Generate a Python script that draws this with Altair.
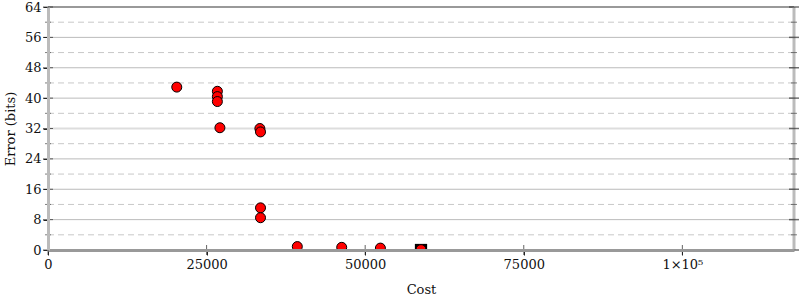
import altair as alt
import pandas as pd

# data
cost = [20300, 26700, 26700, 26700, 27100, 33400, 33500, 33500, 33500, 39300, 46300, 52400, 58800]
error = [42.9, 41.8, 40.4, 39.1, 32.2, 32.0, 31.1, 11.1, 8.5, 0.9, 0.7, 0.5, 0.1]
best_cost = [58800]
best_error = [0.0]

x_ticks = [0, 25000, 50000, 75000, 100000]
y_major = [0, 8, 16, 24, 32, 40, 48, 56, 64]
y_minor = [4, 12, 20, 28, 36, 44, 52, 60]
y_grid = [8, 16, 24, 40, 48, 56]
y_light = [32]
y_top = [64]

X_MAX = 117600
FONT = "DejaVu Serif"

pts = pd.DataFrame({"cost": cost, "error": error})
best = pd.DataFrame({"cost": best_cost, "error": best_error})
minor_df = pd.DataFrame({"error": y_minor})
major_df = pd.DataFrame({"error": y_major})
grid_df = pd.DataFrame({"error": y_grid})
light_df = pd.DataFrame({"error": y_light})
top_df = pd.DataFrame({"error": y_top})
xt_df = pd.DataFrame({"cost": x_ticks})

xscale = alt.Scale(domain=[0, X_MAX], nice=False, zero=False)
yscale = alt.Scale(domain=[0, 64], nice=False)

x_axis = alt.Axis(values=x_ticks, format="d",
                  labelExpr="datum.value >= 100000 ? '1×10⁵' : datum.label",
                  title="Cost", grid=False, tickSize=5, tickColor="#222",
                  domainColor="#999", domainWidth=3, labelFont=FONT, labelFontSize=13,
                  labelColor="#111", titleFont=FONT, titleFontSize=13, titleFontWeight="normal",
                  titleColor="#111", labelPadding=3, titlePadding=12, labelFlush=False,
                  labelOverlap=False, zindex=1)
y_axis = alt.Axis(values=y_major, title="Error (bits)", grid=False, tickSize=5,
                  tickColor="#222", domainColor="#bbb", domainWidth=3,
                  labelFont=FONT, labelFontSize=13, labelColor="#111",
                  titleFont=FONT, titleFontSize=13, titleFontWeight="normal",
                  titleColor="#111", labelPadding=2, titlePadding=7, labelFlush=False,
                  labelOverlap=False, zindex=1)


def Y():
    return alt.Y("error:Q", scale=yscale, axis=y_axis, title="Error (bits)")


def X():
    return alt.X("cost:Q", scale=xscale, axis=x_axis, title="Cost")


minor_grid = alt.Chart(minor_df).mark_rule(color="#c8c8c8", strokeDash=[6, 4], strokeWidth=1).encode(y=Y())
major_grid = alt.Chart(grid_df).mark_rule(color="#bbbbbb", strokeWidth=1).encode(y=Y())
light_grid = alt.Chart(light_df).mark_rule(color="#dddddd", strokeWidth=2).encode(y=Y())
top_line = alt.Chart(top_df).mark_rule(color="#999999", strokeWidth=2).encode(y=Y())

# right frame line
right_line = alt.Chart(top_df).mark_rule(color="#bbbbbb", strokeWidth=3).encode(
    x=alt.value(746), y=alt.value(0), y2=alt.value(243))

# inward halves of ticks
left_major_ticks = alt.Chart(major_df).mark_tick(orient="horizontal", color="#222", size=10, thickness=1).encode(
    y=Y(), x=alt.value(0))
left_minor_ticks = alt.Chart(minor_df).mark_tick(orient="horizontal", color="#444", size=6, thickness=1).encode(
    y=Y(), x=alt.value(0))
right_major_ticks = alt.Chart(major_df).mark_tick(orient="horizontal", color="#333", size=10, thickness=1.5).encode(
    y=Y(), x=alt.value(746))
right_minor_ticks = alt.Chart(minor_df).mark_tick(orient="horizontal", color="#444", size=6, thickness=1).encode(
    y=Y(), x=alt.value(746))
bottom_ticks = alt.Chart(xt_df).mark_tick(orient="vertical", color="#222", size=10, thickness=1).encode(
    x=X(), y=alt.value(243))

square = alt.Chart(best).mark_point(shape="square", filled=True, color="#000000", size=150,
                                    opacity=1, clip=True).encode(x=X(), y=Y())
circles = alt.Chart(pts).mark_circle(color="#ff0000", stroke="#000000", strokeWidth=1, size=100,
                                     opacity=1, clip=True).encode(x=X(), y=Y())

chart = alt.layer(
    minor_grid, major_grid, light_grid, top_line, right_line,
    square, circles,
    left_major_ticks, left_minor_ticks, right_major_ticks, right_minor_ticks, bottom_ticks,
).properties(
    width=746, height=243,
    padding={"left": 48, "top": 7, "right": 6, "bottom": 50},
    autosize="none",
).configure_view(stroke=None).configure(background="white")

chart.save("out.html", embed_options={"renderer": "svg", "actions": False})
